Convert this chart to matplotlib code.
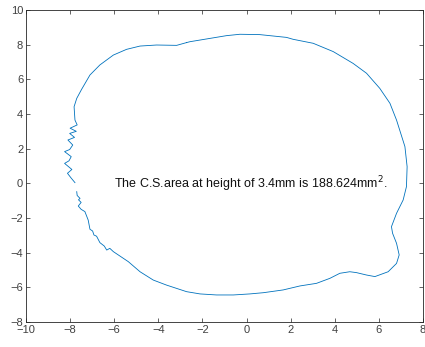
import numpy as np
import matplotlib.pyplot as plt

plt.rcParams['font.family'] = ['Liberation Sans', 'DejaVu Sans']

# contour points (clockwise from the top)
xs = [-2.72, -2.57, -1.81, -0.91, -0.30, 0.60, 1.81, 2.11, 3.02, 3.93, 4.83, 5.44,
      6.04, 6.50, 6.80, 7.18, 7.28, 7.25, 7.10, 6.80, 6.57, 6.62, 6.80, 6.92, 6.80,
      6.42, 5.82, 5.44, 4.98, 4.68, 4.23, 3.78, 3.17, 2.42, 1.66, 0.76, 0.15, -0.60,
      -1.36, -2.11, -2.72, -3.63, -4.23, -4.83, -5.36, -6.04, -6.20, -6.34, -6.45, -6.65,
      -6.80, -6.92, -6.98, -7.10, -7.18, -7.33, -7.50, -7.63, -7.50, -7.62, -7.55, -7.68,
      -7.70, np.nan,
      -7.78, -7.95, -8.12, -7.92, -8.25, -8.05, -7.95, -8.25, -8.02, -7.88, -8.10,
      -7.80, -8.02, -7.72, -8.00, -7.68, -7.78, -7.82, -7.70, -7.48, -7.10, -6.65,
      -6.04, -5.44, -4.83, -4.08, -3.17, -2.72]
ys = [8.12, 8.17, 8.33, 8.52, 8.60, 8.58, 8.42, 8.31, 8.08, 7.60, 6.92, 6.35,
      5.48, 4.62, 3.65, 2.12, 0.96, -0.19, -0.96, -1.73, -2.50, -2.88, -3.46, -4.13, -4.62,
      -5.10, -5.38, -5.29, -5.15, -5.10, -5.19, -5.48, -5.77, -5.92, -6.15, -6.31, -6.38, -6.44,
      -6.44, -6.38, -6.25, -5.87, -5.58, -5.10, -4.52, -3.94, -3.75, -3.85, -3.62, -3.42,
      -3.05, -2.98, -2.75, -2.65, -2.12, -1.63, -1.50, -1.31, -1.10, -0.95, -0.87, -0.70,
      -0.48, np.nan,
      0.04, 0.30, 0.58, 0.80, 1.15, 1.30, 1.54, 1.83, 1.95, 2.21, 2.50,
      2.65, 2.88, 3.00, 3.18, 3.37, 3.65, 4.42, 4.90, 5.42, 6.25, 6.83,
      7.40, 7.73, 7.92, 7.98, 7.96, 8.12]

label = 'The C.S.area at height of 3.4mm is 188.624mm$^2$.'

fig = plt.figure(figsize=(4.25, 3.47), dpi=100)
ax = fig.add_axes([26 / 425, 25 / 347, 397 / 425, 312 / 347])
ax.plot(xs, ys, color='#0072BD', lw=0.6)
ax.text(-6, -0.05, label, ha='left', va='center', fontsize=9, color='#111111')

ax.set_xlim(-10, 8)
ax.set_ylim(-8, 10)
ax.set_xticks(np.arange(-10, 9, 2))
ax.set_yticks(np.arange(-8, 11, 2))
ax.tick_params(direction='in', length=3, width=0.5, color='#262626',
               labelcolor='#404040', labelsize=8, top=True, right=True, pad=2)
for s in ax.spines.values():
    s.set_linewidth(0.6)
    s.set_color('#262626')

fig.savefig('out.png', dpi=100)
